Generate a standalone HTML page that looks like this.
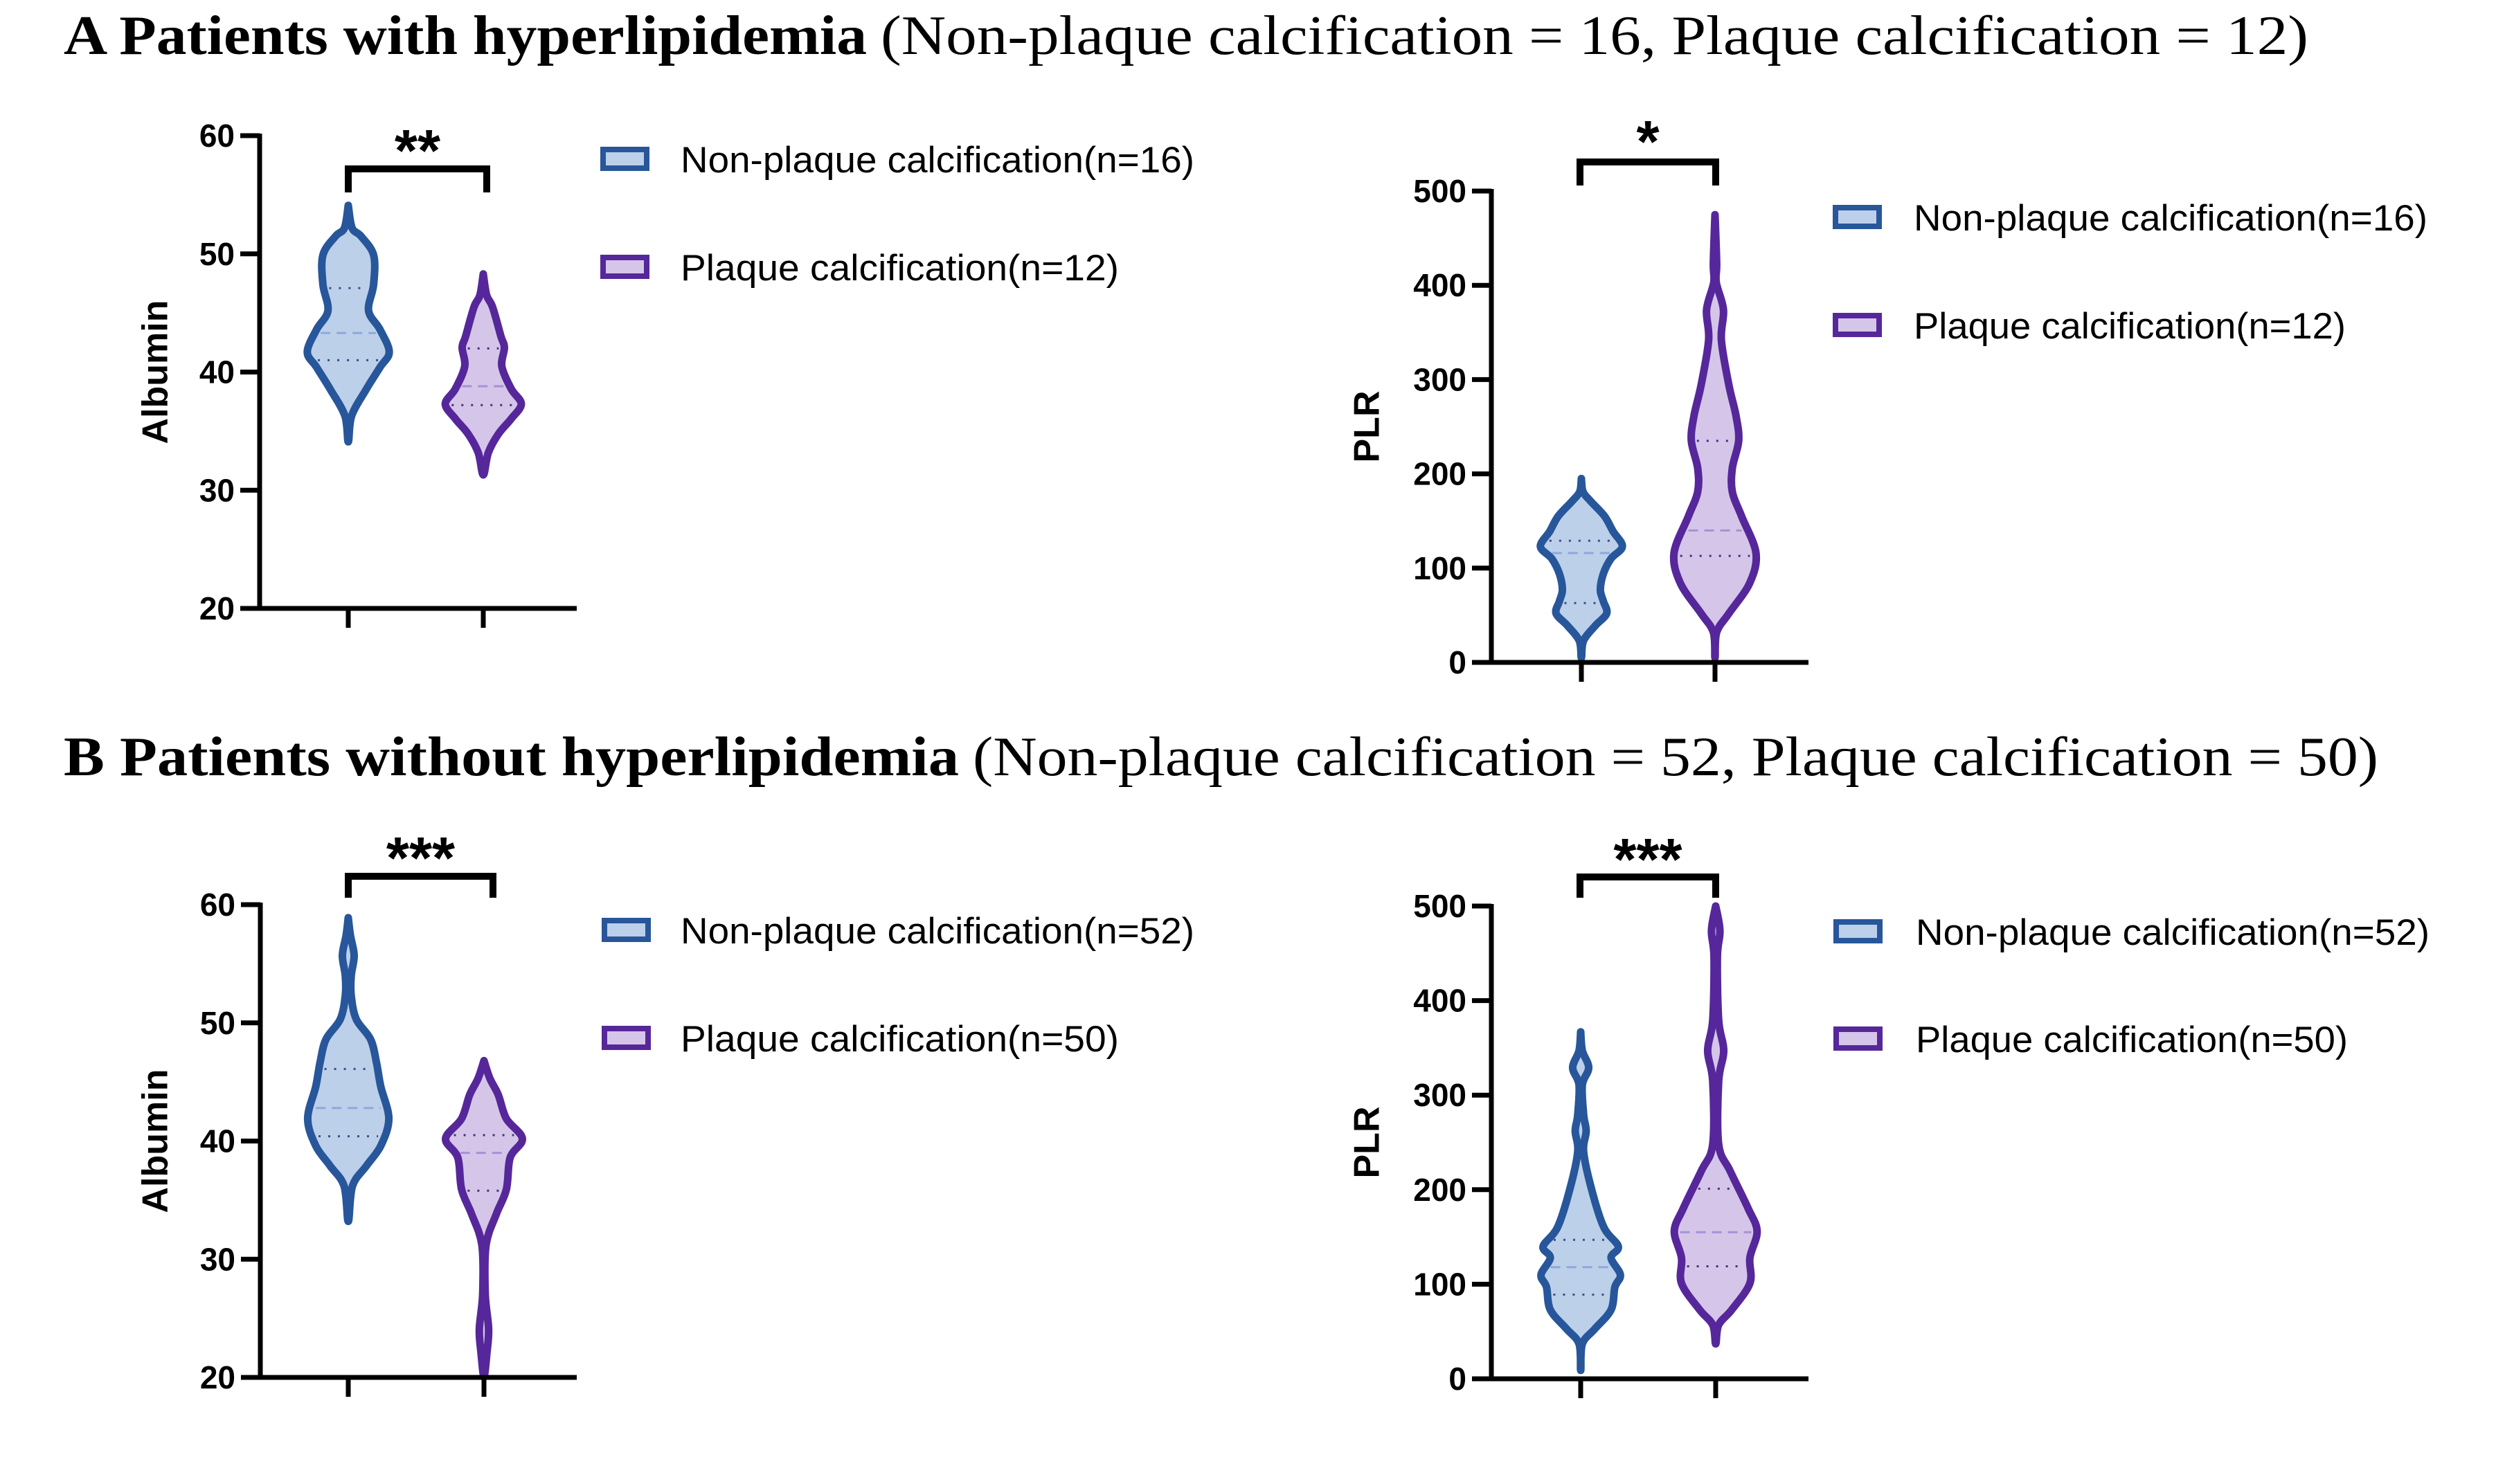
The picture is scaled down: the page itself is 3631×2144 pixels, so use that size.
<!DOCTYPE html>
<html><head><meta charset="utf-8">
<style>
html,body{margin:0;padding:0;background:#fff;}
svg{display:block;}
</style></head>
<body>
<svg id="fig" xmlns="http://www.w3.org/2000/svg" width="3631" height="2144" viewBox="0 0 3631 2144">
<rect x="0" y="0" width="3631" height="2144" fill="#fff"/>
<g>
<text x="92" y="78" font-family="Liberation Serif, serif" font-weight="bold" font-size="80" textLength="1160" lengthAdjust="spacingAndGlyphs">A Patients with hyperlipidemia</text>
<text x="1272" y="78" font-family="Liberation Serif, serif" font-size="80" textLength="2062" lengthAdjust="spacingAndGlyphs">(Non-plaque calcification = 16, Plaque calcification = 12)</text>
</g>
<g>
<text x="92" y="1120" font-family="Liberation Serif, serif" font-weight="bold" font-size="80" textLength="1293" lengthAdjust="spacingAndGlyphs">B Patients without hyperlipidemia</text>
<text x="1405" y="1120" font-family="Liberation Serif, serif" font-size="80" textLength="2030" lengthAdjust="spacingAndGlyphs">(Non-plaque calcification = 52, Plaque calcification = 50)</text>
</g>
<g id="plots"></g>
</svg>
<script>
// ---- Data: violin density profiles [value, relative half-width] ----
const groupNames = ["Non-plaque calcification", "Plaque calcification"];
const albuminTicks = [20, 30, 40, 50, 60];
const plrTicks = [0, 100, 200, 300, 400, 500];

const aAlbBlue = [[54.1,0],[52.2,0.09],[51.5,0.3],[49.9,0.6],[47.4,0.6],[45.2,0.48],[43.6,0.75],[41.7,0.97],[40.4,0.75],[38.5,0.42],[36.3,0.08],[34.1,0]];
const aAlbPurple = [[48.3,0],[46.5,0.08],[45.5,0.22],[43.0,0.42],[42.07,0.5],[40.48,0.44],[38.58,0.66],[37.3,0.9],[36.04,0.66],[34.77,0.36],[33.18,0.12],[31.3,0]];
const aAlbBlueQ = [41.0, 43.3, 47.1];
const aAlbPurpleQ = [37.2, 38.8, 42.0];

const aPlrBlue = [[195,0],[181,0.04],[171,0.22],[155,0.55],[139,0.75],[123,0.97],[110,0.7],[94,0.52],[77,0.45],[65,0.52],[52,0.6],[39,0.33],[23,0.05],[5,0]];
const aPlrPurple = [[475,0],[423,0.04],[403,0.03],[374,0.2],[342,0.15],[294,0.33],[261,0.5],[235,0.56],[206,0.41],[181,0.41],[155,0.63],[116,0.97],[84,0.82],[52,0.33],[32,0.04],[5,0]];
const aPlrBlueQ = [63, 116, 129];
const aPlrPurpleQ = [113, 140, 235];

const bAlbBlue = [[58.9,0],[57.4,0.05],[55.7,0.14],[54.0,0.07],[52.3,0.07],[50.3,0.19],[48.6,0.53],[46.6,0.67],[44.6,0.77],[41.9,0.96],[39.6,0.77],[37.9,0.43],[36.2,0.1],[33.2,0]];
const bAlbPurple = [[46.8,0],[45.3,0.14],[43.9,0.34],[41.9,0.53],[40.2,0.91],[38.6,0.62],[35.9,0.53],[33.8,0.29],[31.2,0.05],[27.1,0.03],[24.1,0.11],[22.1,0.07],[20.1,0]];
const bAlbBlueQ = [40.4, 42.8, 46.1];
const bAlbPurpleQ = [35.8, 39.0, 40.5];

const bPlrBlue = [[367,0],[347,0.04],[329,0.19],[311,0.04],[279,0.07],[262,0.13],[240,0.07],[200,0.26],[160,0.55],[140,0.89],[128,0.72],[110,0.94],[97,0.81],[73,0.72],[53,0.34],[37,0.04],[9,0]];
const bPlrPurple = [[500,0],[474,0.1],[446,0.04],[379,0.07],[347,0.19],[315,0.07],[248,0.07],[220,0.34],[180,0.77],[156,0.98],[128,0.81],[101,0.81],[73,0.38],[57,0.07],[37,0]];
const bPlrBlueQ = [89, 118, 147];
const bPlrPurpleQ = [119, 155, 201];

const aLegendLabels = ["Non-plaque calcification(n=16)", "Plaque calcification(n=12)"];
const bLegendLabels = ["Non-plaque calcification(n=52)", "Plaque calcification(n=50)"];
const significance = ["**", "*", "***", "***"];

// ---- Rendering ----
const NS = "http://www.w3.org/2000/svg";
const root = document.getElementById("plots");
const BLUE = {stroke:"#27569a", fill:"#bcd0ea", dash:"#8ea8da", dot:"#3c4f86"};
const PURP = {stroke:"#56279a", fill:"#d5c6e9", dash:"#a98fd6", dot:"#4a2f80"};
function el(tag, attrs, parent){
  const e = document.createElementNS(NS, tag);
  for (const k in attrs) e.setAttribute(k, attrs[k]);
  (parent||root).appendChild(e);
  return e;
}
function smoothPath(pts){
  let d = "";
  for (let i=0;i<pts.length-1;i++){
    const p0 = pts[Math.max(0,i-1)], p1=pts[i], p2=pts[i+1], p3=pts[Math.min(pts.length-1,i+2)];
    const c1x=p1[0]+(p2[0]-p0[0])/6, c1y=p1[1]+(p2[1]-p0[1])/6;
    const c2x=p2[0]-(p3[0]-p1[0])/6, c2y=p2[1]-(p3[1]-p1[1])/6;
    d += " C"+c1x.toFixed(1)+","+c1y.toFixed(1)+" "+c2x.toFixed(1)+","+c2y.toFixed(1)+" "+p2[0].toFixed(1)+","+p2[1].toFixed(1);
  }
  return d;
}
function hwAt(prof, v){
  for (let i=0;i<prof.length-1;i++){
    const a=prof[i], b=prof[i+1];
    if ((v<=a[0] && v>=b[0])){
      const t=(a[0]-v)/(a[0]-b[0]||1);
      return a[1]+(b[1]-a[1])*t;
    }
  }
  return 0;
}
function panel(cfg){
  const g = el("g", {});
  
  
  const x0 = cfg.axisX, yTop=cfg.yTop, yBot=cfg.yBot;
  const ymin = cfg.ticks[0], ymax = cfg.ticks[cfg.ticks.length-1];
  const ys = v => yBot - (v-ymin)/(ymax-ymin)*(yBot-yTop);
  const MAXHW = 61;
  cfg.series.forEach((s, i) => {
    const cx = cfg.centers[i];
    const right = s.prof.map(p => [cx + p[1]*MAXHW, ys(p[0])]);
    const left = s.prof.slice().reverse().map(p => [cx - p[1]*MAXHW, ys(p[0])]);
    const all = right.concat(left.slice(1));
    const d = "M"+all[0][0].toFixed(1)+","+all[0][1].toFixed(1)+smoothPath(all)+" Z";
    const vp = el("path", {d:d, fill:s.col.fill, stroke:s.col.stroke, "stroke-width":11, "stroke-linejoin":"round", "stroke-linecap":"round"}, g);
    
    
    s.q.forEach((qv, qi) => {
      const hw = Math.max(hwAt(s.prof, qv)*MAXHW - 8, 4);
      const isMed = qi===1;
      const ql = el("line", {x1:cx-hw, x2:cx+hw, y1:ys(qv), y2:ys(qv), stroke: isMed? s.col.dash : s.col.dot, "stroke-width":3, "stroke-dasharray": isMed? "14,9" : "3,11"}, g);
      
      
    });
  });
  const ya = el("line", {x1:x0, x2:x0, y1:yTop-3, y2:yBot+3, stroke:"#000", "stroke-width":7}, g);
  
  
  const xa = el("line", {x1:x0-28, x2:cfg.axisEnd, y1:yBot, y2:yBot, stroke:"#000", "stroke-width":7}, g);
  
  
  cfg.ticks.forEach(t => {
    const y = ys(t);
    if (t!==ymin){
      const tk = el("line", {x1:x0-28, x2:x0, y1:y, y2:y, stroke:"#000", "stroke-width":7}, g);
      
      
    }
    const tl = el("text", {x:x0-36, y:y+16, "text-anchor":"end", "font-family":"Liberation Sans, sans-serif", "font-weight":"bold", "font-size":46}, g);
    tl.textContent = t;
    
    
  });
  cfg.centers.forEach(cx => {
    const tk = el("line", {x1:cx, x2:cx, y1:yBot, y2:yBot+28, stroke:"#000", "stroke-width":7}, g);
    
    
  });
  const yt = el("text", {x:0, y:0, transform:"translate("+cfg.titleX+","+((yTop+yBot)/2)+") rotate(-90)", "text-anchor":"middle", "font-family":"Liberation Sans, sans-serif", "font-weight":"bold", "font-size":52, "dominant-baseline":"middle"}, g);
  yt.textContent = cfg.yTitle;
  
  
  const b = cfg.bracket;
  const br = el("path", {d:"M"+b.x1+","+b.yb+" L"+b.x1+","+b.yt+" L"+b.x2+","+b.yt+" L"+b.x2+","+b.yb, fill:"none", stroke:"#000", "stroke-width":10}, g);
  
  
  const st = el("text", {x:(b.x1+b.x2)/2, y:b.starY+46, "text-anchor":"middle", "font-family":"Liberation Sans, sans-serif", "font-weight":"bold", "font-size":85}, g);
  st.textContent = cfg.sig;
  
  
  const L = cfg.legend;
  cfg.series.forEach((s, i) => {
    const lg = el("g", {}, g);
    
    
    el("rect", {x:L.boxX+4, y:L.rows[i]+4, width:63, height:27, fill:s.col.fill, stroke:s.col.stroke, "stroke-width":8}, lg);
    const t = el("text", {x:L.textX, y:L.rows[i]+37, "font-family":"Liberation Sans, sans-serif", "font-size":53, textLength:L.widths[i], lengthAdjust:"spacingAndGlyphs"}, lg);
    t.textContent = L.labels[i];
  });
}
panel({name:"panel-a-albumin", axisX:375, yTop:196, yBot:879, axisEnd:833, ticks:albuminTicks, centers:[503,698], titleX:228, yTitle:"Albumin",
  series:[{prof:aAlbBlue,q:aAlbBlueQ,col:BLUE},{prof:aAlbPurple,q:aAlbPurpleQ,col:PURP}],
  bracket:{x1:503,x2:703,yt:244,yb:278,starY:201}, sig:significance[0],
  legend:{boxX:867,textX:983,rows:[212,368],widths:[742,633],labels:aLegendLabels}});
panel({name:"panel-a-plr", axisX:2154, yTop:276, yBot:957, axisEnd:2612, ticks:plrTicks, centers:[2284,2477], titleX:1978, yTitle:"PLR",
  series:[{prof:aPlrBlue,q:aPlrBlueQ,col:BLUE},{prof:aPlrPurple,q:aPlrPurpleQ,col:PURP}],
  bracket:{x1:2282,x2:2478,yt:234,yb:268,starY:188}, sig:significance[1],
  legend:{boxX:2647,textX:2764,rows:[296,452],widths:[742,624],labels:aLegendLabels}});
panel({name:"panel-b-albumin", axisX:376, yTop:1307, yBot:1990, axisEnd:833, ticks:albuminTicks, centers:[503,699], titleX:228, yTitle:"Albumin",
  series:[{prof:bAlbBlue,q:bAlbBlueQ,col:BLUE},{prof:bAlbPurple,q:bAlbPurpleQ,col:PURP}],
  bracket:{x1:503,x2:712,yt:1266,yb:1297,starY:1223}, sig:significance[2],
  legend:{boxX:869,textX:983,rows:[1326,1482],widths:[742,633],labels:bLegendLabels}});
panel({name:"panel-b-plr", axisX:2154, yTop:1309, yBot:1992, axisEnd:2612, ticks:plrTicks, centers:[2283,2478], titleX:1978, yTitle:"PLR",
  series:[{prof:bPlrBlue,q:bPlrBlueQ,col:BLUE},{prof:bPlrPurple,q:bPlrPurpleQ,col:PURP}],
  bracket:{x1:2282,x2:2478,yt:1267,yb:1297,starY:1225}, sig:significance[3],
  legend:{boxX:2648,textX:2767,rows:[1328,1483],widths:[742,624],labels:bLegendLabels}});
</script>
</body></html>
